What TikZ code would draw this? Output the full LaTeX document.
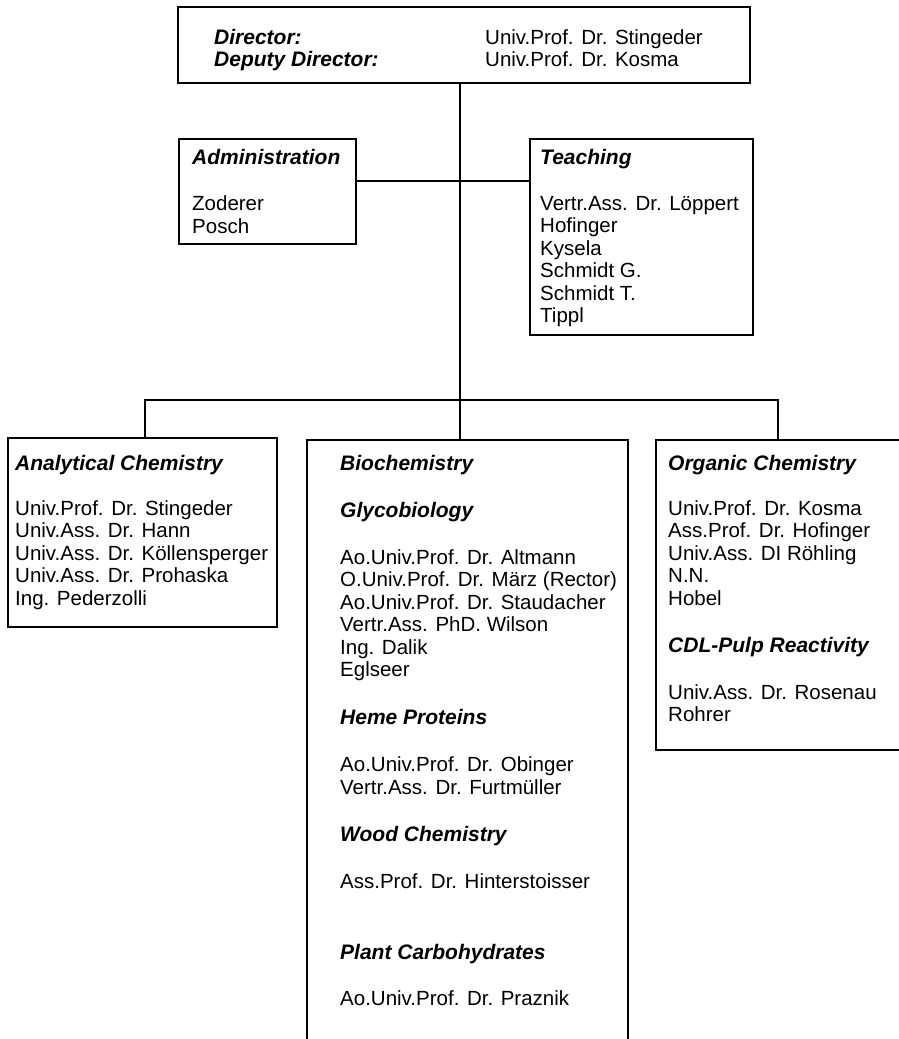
\documentclass[tikz,border=0pt]{standalone}
\usepackage{fontspec}
\setmainfont{Liberation Sans}
\begin{document}
\begin{tikzpicture}[x=1pt,y=-1pt,
  every node/.style={font=\fontsize{20.5pt}{22.5pt}\selectfont},
  box/.style={draw=black, line width=2.7pt, inner sep=0pt, rectangle},
  conn/.style={draw=black, line width=2.7pt},
  hd/.style={anchor=base west, inner sep=0pt, font=\fontsize{21pt}{22.5pt}\selectfont\bfseries\itshape},
  tx/.style={anchor=base west, inner sep=0pt}]
\useasboundingbox (0,0) rectangle (899,1039);
\clip (0,0) rectangle (899,1039);
\fill[white] (0,0) rectangle (899,1039);
% boxes
\node[box, minimum width=572pt, minimum height=76pt] (top) at (464,45) {};
\node[box, minimum width=177pt, minimum height=105pt] (admin) at (267.5,191.5) {};
\node[box, minimum width=223pt, minimum height=196pt] (teach) at (641.5,237) {};
\node[box, minimum width=269pt, minimum height=189pt] (anal) at (142.5,532.5) {};
\node[box, minimum width=321pt, minimum height=640pt] (bio) at (467.5,760) {};
\node[box, minimum width=274pt, minimum height=310pt] (org) at (793,595) {};
% connector coordinates
\coordinate (trunk) at (460,400);
\coordinate (hy) at (460,181);
\coordinate (busL) at (145,400);
\coordinate (busR) at (778,400);
% connectors
\draw[conn] (top.south -| trunk) -- (trunk);
\draw[conn] (admin.east |- hy) -- (teach.west |- hy);
\draw[conn] (anal.north -| busL) -- (busL) -- (busR) -- (org.north -| busR);
\draw[conn] (trunk) -- (bio.north -| trunk);
% top text
\node[hd] (t1) at (214,44) {Director:};
\node[hd] (t2) at (214,66) {Deputy Director:};
\node[tx] (t3) at (485,44) {Univ.Prof. Dr. Stingeder};
\node[tx] (t4) at (485,66) {Univ.Prof. Dr. Kosma};
% admin
\node[hd] (a0) at (192,164) {Administration};
\node[tx] (a1) at (192,210) {Zoderer};
\node[tx] (a2) at (192,233) {Posch};
% teaching
\node[hd] (e0) at (540,164) {Teaching};
\foreach \t [count=\i] in {Vertr.Ass. Dr. Löppert, Hofinger, Kysela, Schmidt G., Schmidt T., Tippl}
  \node[tx] (e\i) at (540,{210+22.5*(\i-1)}) {\t};
% analytical
\node[hd] (n0) at (15,470) {Analytical Chemistry};
\foreach \t [count=\i] in {Univ.Prof. Dr. Stingeder, Univ.Ass. Dr. Hann, Univ.Ass. Dr. Köllensperger, Univ.Ass. Dr. Prohaska, Ing. Pederzolli}
  \node[tx] (n\i) at (15,{515+22.5*(\i-1)}) {\t};
% biochemistry
\node[hd] (b0) at (340,470) {Biochemistry};
\node[hd] (g0) at (340,517) {Glycobiology};
\foreach \t [count=\i] in {Ao.Univ.Prof. Dr. Altmann, O.Univ.Prof. Dr. März (Rector), Ao.Univ.Prof. Dr. Staudacher, Vertr.Ass. PhD. Wilson, Ing. Dalik, Eglseer}
  \node[tx] (g\i) at (340,{564+22.5*(\i-1)}) {\t};
\node[hd] (h0) at (340,724) {Heme Proteins};
\node[tx] (h1) at (340,771) {Ao.Univ.Prof. Dr. Obinger};
\node[tx] (h2) at (340,794) {Vertr.Ass. Dr. Furtmüller};
\node[hd] (w0) at (340,841) {Wood Chemistry};
\node[tx] (w1) at (340,888) {Ass.Prof. Dr. Hinterstoisser};
\node[hd] (p0) at (340,959) {Plant Carbohydrates};
\node[tx] (p1) at (340,1005) {Ao.Univ.Prof. Dr. Praznik};
% organic
\node[hd] (o0) at (668,470) {Organic Chemistry};
\foreach \t [count=\i] in {Univ.Prof. Dr. Kosma, Ass.Prof. Dr. Hofinger, Univ.Ass. DI Röhling, N.N., Hobel}
  \node[tx] (o\i) at (668,{515+22.5*(\i-1)}) {\t};
\node[hd] (c0) at (668,652) {CDL-Pulp Reactivity};
\node[tx] (c1) at (668,699) {Univ.Ass. Dr. Rosenau};
\node[tx] (c2) at (668,721) {Rohrer};
\end{tikzpicture}
\end{document}
